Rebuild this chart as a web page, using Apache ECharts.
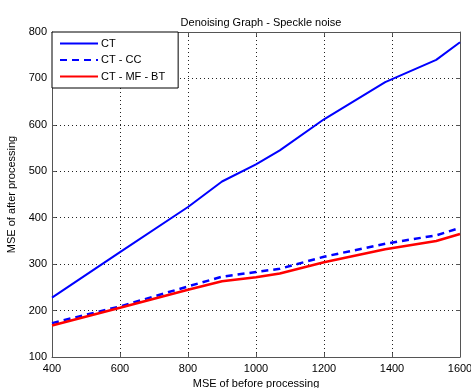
<!DOCTYPE html>
<html>
<head>
<meta charset="utf-8">
<script src="https://cdn.jsdelivr.net/npm/echarts@6/dist/echarts.min.js"></script>
<style>
  html, body { margin: 0; padding: 0; background: #fff; }
  #main { width: 471px; height: 388px; }
</style>
</head>
<body>
<div id="main"></div>
<script>
// values
const xCT = [400, 600, 800, 900, 1000, 1070, 1200, 1380, 1530, 1600];
const ctValues = [228, 326, 423, 478, 515, 545, 612, 692, 740, 778];
const ctCcValues = [173, 209, 252, 273, 283, 290, 316, 344, 362, 378];
const ctMfBtValues = [168, 206, 245, 263, 272, 280, 304, 332, 350, 365];
const seriesNames = ['CT', 'CT - CC', 'CT - MF - BT'];

const pairs = (xs, ys) => xs.map((x, i) => [x, ys[i]]);
const font = 'Liberation Sans, Arial, sans-serif';

const chart = echarts.init(document.getElementById('main'));

const baseX = {
  type: 'value',
  min: 400,
  max: 1600,
  interval: 200,
  axisLine: { show: true, onZero: false, lineStyle: { color: '#555', width: 1 } },
  axisTick: { show: true, inside: true, length: 4, lineStyle: { color: '#555' } },
};
const baseY = {
  type: 'value',
  min: 100,
  max: 800,
  interval: 100,
  axisLine: { show: true, onZero: false, lineStyle: { color: '#555', width: 1 } },
  axisTick: { show: true, inside: true, length: 4, lineStyle: { color: '#555' } },
};

chart.setOption({
  backgroundColor: '#fff',
  animation: false,
  textStyle: { fontFamily: font },
  title: {
    text: 'Denoising Graph - Speckle noise',
    left: 256,
    textAlign: 'center',
    top: 12,
    textStyle: { fontSize: 11, fontWeight: 'normal', color: '#000', fontFamily: font },
  },
  legend: {
    orient: 'vertical',
    left: 52,
    top: 32,
    data: seriesNames,
    backgroundColor: '#fff',
    borderColor: '#000',
    borderWidth: 1,
    borderRadius: 0,
    padding: [6, 13, 6, 7],
    itemWidth: 38,
    itemHeight: 12,
    itemGap: 5.5,
    itemStyle: { opacity: 0 },
    textStyle: { fontSize: 11, color: '#000', fontFamily: font, padding: [0, 0, 0, -2] },
  },
  grid: { left: 52, right: 11, top: 32, bottom: 31, outerBoundsMode: 'none', containLabel: false },
  xAxis: [
    Object.assign({}, baseX, {
      position: 'bottom',
      name: 'MSE of before processing',
      nameLocation: 'middle',
      nameGap: 20,
      nameTextStyle: { fontSize: 11, color: '#000', fontFamily: font },
      axisLabel: { fontSize: 11, color: '#000', margin: 6, fontFamily: font, formatter: v => String(v) },
      splitLine: { show: true, lineStyle: { color: '#222', type: [1, 3], width: 1 } },
    }),
    Object.assign({}, baseX, {
      position: 'top',
      axisLabel: { show: false },
      splitLine: { show: false },
    }),
  ],
  yAxis: [
    Object.assign({}, baseY, {
      position: 'left',
      name: 'MSE of after processing',
      nameLocation: 'middle',
      nameGap: 32,
      nameTextStyle: { fontSize: 11, color: '#000', fontFamily: font },
      axisLabel: { fontSize: 11, color: '#000', margin: 5, fontFamily: font },
      splitLine: { show: true, lineStyle: { color: '#222', type: [1, 3], width: 1 } },
    }),
    Object.assign({}, baseY, {
      position: 'right',
      axisLabel: { show: false },
      splitLine: { show: false },
    }),
  ],
  series: [
    {
      name: seriesNames[0],
      type: 'line',
      data: pairs(xCT, ctValues),
      showSymbol: false,
      symbol: 'none',
      lineStyle: { color: '#0000ff', width: 2 },
      itemStyle: { color: '#0000ff' },
    },
    {
      name: seriesNames[1],
      type: 'line',
      data: pairs(xCT, ctCcValues),
      showSymbol: false,
      symbol: 'none',
      lineStyle: { color: '#0000ff', width: 2.5, type: [7, 5] },
      itemStyle: { color: '#0000ff' },
    },
    {
      name: seriesNames[2],
      type: 'line',
      data: pairs(xCT, ctMfBtValues),
      showSymbol: false,
      symbol: 'none',
      lineStyle: { color: '#ff0000', width: 2.5 },
      itemStyle: { color: '#ff0000' },
    },
  ],
});
</script>
</body>
</html>
